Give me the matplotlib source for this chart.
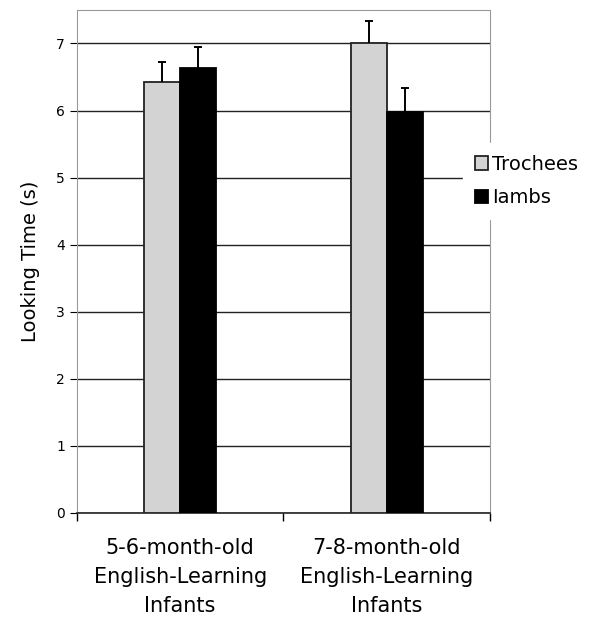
import matplotlib.pyplot as plt
import numpy as np

groups = ['5-6-month-old\nEnglish-Learning\nInfants', '7-8-month-old\nEnglish-Learning\nInfants']
series = ['Trochees', 'Iambs']
trochees = [6.43, 7.00]
iambs = [6.64, 5.98]
trochees_err = [0.30, 0.33]
iambs_err = [0.30, 0.35]
colors = ['#d3d3d3', '#000000']

fig = plt.figure(figsize=(5.96, 6.21), dpi=100)
ax = fig.add_axes([0.129, 0.174, 0.693, 0.81])

x = np.arange(len(groups)) + 0.5
w = 0.175
ax.bar(x - w / 2, trochees, w, color=colors[0], edgecolor='#222222', linewidth=1.3, label=series[0], zorder=3)
ax.bar(x + w / 2, iambs, w, color=colors[1], edgecolor='#000000', linewidth=1.3, label=series[1], zorder=3)

# error bars: upper half only
for xs, vals, errs in [(x - w / 2, trochees, trochees_err), (x + w / 2, iambs, iambs_err)]:
    eb = ax.errorbar(xs, vals, yerr=[np.zeros(2), errs], fmt='none',
                     ecolor='black', elinewidth=1.4, capsize=3, capthick=1.4, zorder=4)
    eb[1][0].set_visible(False)

ax.set_xlim(0, 2)
ax.set_ylim(0, 7.5)
ax.set_yticks(range(0, 8))
ax.yaxis.grid(True, color='#222222', linewidth=1, zorder=0)
ax.set_axisbelow(True)

ax.set_xticks([0, 1, 2])
ax.set_xticklabels([])
ax.set_xticks(x, minor=True)
ax.set_xticklabels(groups, minor=True, fontsize=15, linespacing=1.55)
ax.tick_params(axis='x', which='minor', length=0, pad=18)
ax.tick_params(axis='x', which='major', length=6, width=1, direction='out')
ax.tick_params(axis='y', length=5, labelsize=10, direction='out')

for s in ax.spines.values():
    s.set_color('#999999')
ax.spines['bottom'].set_color('#222222')
ax.spines['bottom'].set_linewidth(1.2)

ax.set_ylabel('Looking Time (s)', fontsize=14, labelpad=12)

leg = ax.legend(loc='center left', bbox_to_anchor=(0.935, 0.66), fontsize=14,
                frameon=True, framealpha=1, edgecolor='white', fancybox=False,
                handlelength=0.7, handleheight=0.7, handletextpad=0.2,
                borderpad=0.6, labelspacing=0.75, borderaxespad=0)

fig.savefig('out.png', dpi=100)
